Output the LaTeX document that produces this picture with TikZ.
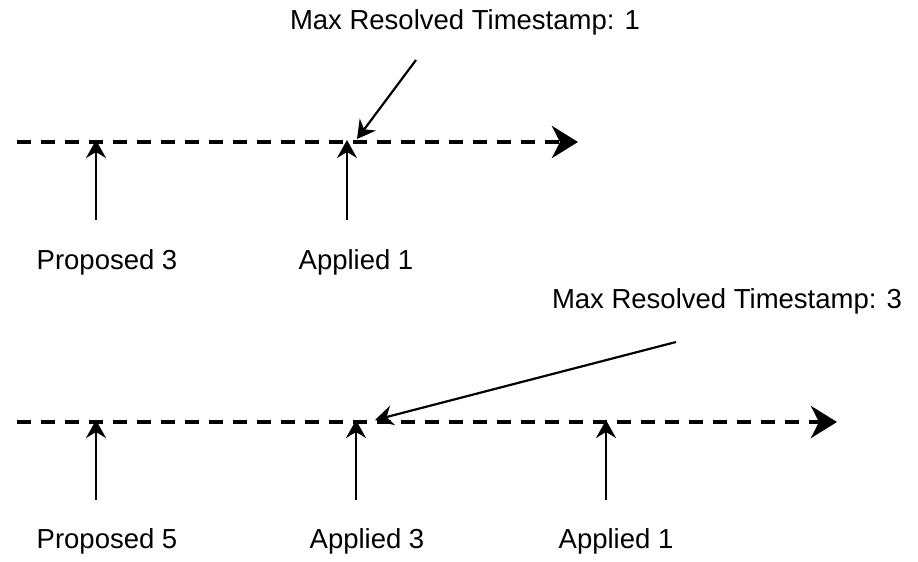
\documentclass[tikz,border=0pt]{standalone}
\usepackage{fontspec}
\setmainfont{Liberation Sans}
\usetikzlibrary{arrows.meta,positioning,calc}

\begin{document}
\begin{tikzpicture}[x=1pt, y=-1pt,
    timeline/.style={line width=4.5pt, dash pattern=on 14pt off 10pt, -{Stealth[length=26pt, width=32pt, inset=8pt]}},
    pointer/.style={line width=2.2pt, -{Stealth[length=18pt, width=20pt, inset=6pt]}},
    lbl/.style={font=\fontsize{27.5}{32}\selectfont, inner sep=0pt}]
\useasboundingbox (0,0) rectangle (918,562);

% obere Zeitachse
\coordinate (t1start) at (17,142);
\coordinate (t1end) at (578,142);
\draw[timeline] (t1start) -- (t1end);

\node[lbl] (prop3) at (107,262) {Proposed 3};
\node[lbl] (appl1) at (356,262) {Applied 1};
\coordinate (prop3base) at (96,220);
\coordinate (prop3tip) at (96,140);
\coordinate (appl1base) at (347,220);
\coordinate (appl1tip) at (347,140);
\draw[pointer] (prop3base) -- (prop3tip);
\draw[pointer] (appl1base) -- (appl1tip);

\node[lbl] (maxts1) at (465,22) {Max Resolved Timestamp: 1};
\coordinate (maxts1from) at (416,60);
\coordinate (maxts1to) at (357,139);
\draw[pointer] (maxts1from) -- (maxts1to);

% untere Zeitachse
\coordinate (t2start) at (17,422);
\coordinate (t2end) at (837,422);
\draw[timeline] (t2start) -- (t2end);

\node[lbl] (prop5) at (107,541) {Proposed 5};
\node[lbl] (appl3) at (367,541) {Applied 3};
\node[lbl] (appl1b) at (616,541) {Applied 1};
\coordinate (prop5base) at (96,500);
\coordinate (prop5tip) at (96,420);
\coordinate (appl3base) at (356,500);
\coordinate (appl3tip) at (356,420);
\coordinate (appl1bbase) at (606,500);
\coordinate (appl1btip) at (606,420);
\draw[pointer] (prop5base) -- (prop5tip);
\draw[pointer] (appl3base) -- (appl3tip);
\draw[pointer] (appl1bbase) -- (appl1btip);

\node[lbl] (maxts3) at (727,301) {Max Resolved Timestamp: 3};
\coordinate (maxts3from) at (676,342);
\coordinate (maxts3to) at (375,420);
\draw[pointer] (maxts3from) -- (maxts3to);
\end{tikzpicture}
\end{document}
